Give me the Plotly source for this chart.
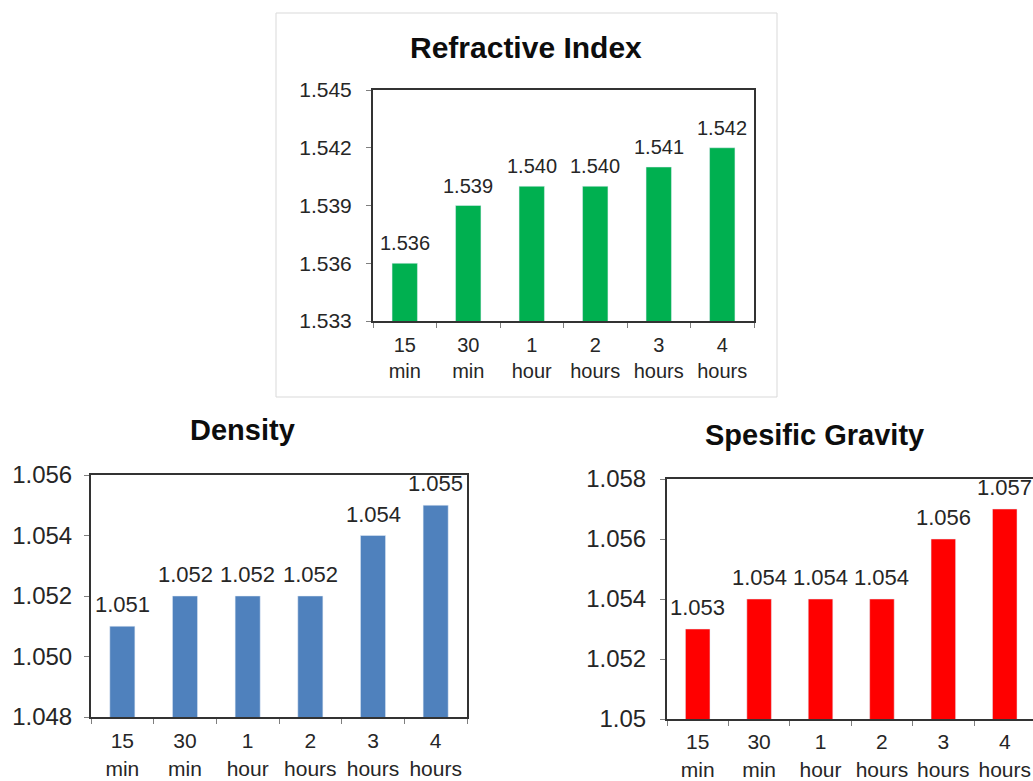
import plotly.graph_objects as go

categories = ["15<br>min", "30<br>min", "1<br>hour", "2<br>hours", "3<br>hours", "4<br>hours"]
refractive_index = [1.536, 1.539, 1.540, 1.540, 1.541, 1.542]
density = [1.051, 1.052, 1.052, 1.052, 1.054, 1.055]
specific_gravity = [1.053, 1.054, 1.054, 1.054, 1.056, 1.057]

ri_ticks = [1.533, 1.536, 1.539, 1.542, 1.545]
ri_ticktext = ["1.533", "1.536", "1.539", "1.542", "1.545"]
de_ticks = [1.048, 1.050, 1.052, 1.054, 1.056]
de_ticktext = ["1.048", "1.050", "1.052", "1.054", "1.056"]
sg_ticks = [1.050, 1.052, 1.054, 1.056, 1.058]
sg_ticktext = ["1.05", "1.052", "1.054", "1.056", "1.058"]

W, H = 1033, 781
FONT = "Liberation Sans, Arial, sans-serif"
TXT = "#262626"

def px_x(a, b):
    return [a / W, min(b / W, 1.0)]

def px_y(top, bottom):
    return [1 - bottom / H, 1 - top / H]

fig = go.Figure()

series = [
    (refractive_index, "#00B050", "x", "y", 20),
    (density, "#4F81BD", "x2", "y2", 22),
    (specific_gravity, "#FF0000", "x3", "y3", 22),
]
for vals, col, xa, ya, fs in series:
    fig.add_trace(go.Bar(x=categories, y=vals, marker_color=col, xaxis=xa, yaxis=ya,
                         width=0.4, hoverinfo="x+y"))
    for c, v in zip(categories, vals):
        fig.add_annotation(x=c, y=v, xref=xa, yref=ya, text="%.3f" % v, showarrow=False,
                           yanchor="bottom", xanchor="center", yshift=7,
                           font=dict(size=fs, color=TXT, family=FONT))

def xax(domain, anchor, size, rng, standoff):
    return dict(domain=domain, anchor=anchor, type="category", showline=True, linecolor="#333333",
                linewidth=2, mirror=True, ticks="outside", ticklen=5, tickcolor="#7f7f7f",
                tickson="boundaries", showgrid=False, tickangle=0, range=rng,
                ticklabelstandoff=standoff, automargin=False,
                tickfont=dict(size=size, color=TXT, family=FONT), fixedrange=True)

def yax(domain, anchor, rng, vals, text, size, standoff):
    return dict(domain=domain, anchor=anchor, range=rng, tickvals=vals, ticktext=text,
                showline=True, linecolor="#333333", linewidth=2, mirror=True,
                ticks="outside", ticklen=5, tickcolor="#7f7f7f", showgrid=False, zeroline=False,
                automargin=False, ticklabelstandoff=standoff,
                tickfont=dict(size=size, color=TXT, family=FONT), fixedrange=True)

fig.update_layout(
    width=W, height=H, margin=dict(l=0, r=0, t=0, b=0, autoexpand=False),
    paper_bgcolor="white", plot_bgcolor="white", showlegend=False,
    font=dict(family=FONT, color=TXT),
    xaxis=xax(px_x(373, 754), "y", 20, [-0.5, 5.5], 5),
    yaxis=yax(px_y(90, 321), "x", [1.533, 1.545], ri_ticks, ri_ticktext, 21, 10),
    xaxis2=xax(px_x(91, 467), "y2", 21, [-0.5, 5.5], 4),
    yaxis2=yax(px_y(475, 717), "x2", [1.048, 1.056], de_ticks, de_ticktext, 24, 7),
    xaxis3=xax(px_x(667, 1033), "y3", 21, [-0.5, 5.46], 3),
    yaxis3=yax(px_y(479, 719), "x3", [1.050, 1.058], sg_ticks, sg_ticktext, 24, 9),
)

fig.add_shape(type="rect", xref="paper", yref="paper",
              x0=276 / W, x1=777 / W, y0=1 - 397 / H, y1=1 - 13 / H,
              line=dict(color="#d9d9d9", width=1), fillcolor="rgba(0,0,0,0)", layer="below")

titles = [("Refractive Index", 526, 47, 30), ("Density", 242, 430, 29), ("Spesific Gravity", 814, 435, 29)]
for t, x, y, s in titles:
    fig.add_annotation(text="<b>%s</b>" % t, x=x / W, y=1 - y / H, xref="paper", yref="paper",
                       xanchor="center", yanchor="middle", showarrow=False,
                       font=dict(size=s, color="#0d0d0d", family=FONT))

fig.write_html("out.html")
